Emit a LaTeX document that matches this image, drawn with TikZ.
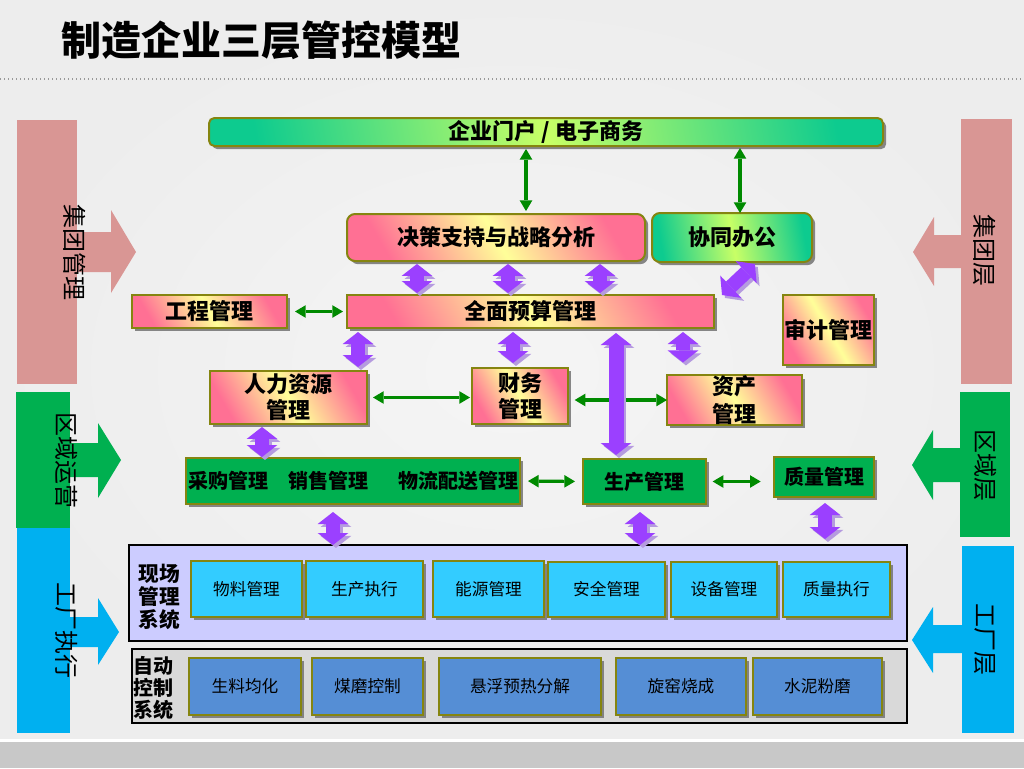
\documentclass[tikz,border=0pt]{standalone}
\usepackage{fontspec}
\setmainfont{Noto Sans CJK SC}
\usetikzlibrary{shadows,arrows.meta}
\definecolor{pinkc}{HTML}{FF7094}
\definecolor{yelc}{HTML}{FFFF99}
\definecolor{tealc}{HTML}{0DCB8F}
\definecolor{lgc}{HTML}{C8FF66}
\definecolor{olivec}{HTML}{858510}
\definecolor{purpc}{HTML}{9B40FF}
\definecolor{purps}{HTML}{B59BDF}
\definecolor{rowg}{HTML}{00B050}
\definecolor{arrg}{HTML}{008A00}
\definecolor{cyanc}{HTML}{33CCFF}
\definecolor{bluec}{HTML}{558ED5}
\definecolor{panela}{HTML}{CCCCFF}
\definecolor{panelb}{HTML}{D9D9D9}
\definecolor{sidep}{HTML}{D99694}
\definecolor{sideg}{HTML}{00B050}
\definecolor{sideb}{HTML}{00B0F0}
\definecolor{bgc}{HTML}{F2F2F2}
\definecolor{bandc}{HTML}{C8C8C8}
\newcommand\mkbox[7]{\node[#6, minimum width={(#4-#2)*0.75pt}, minimum height={(#5-#3)*0.75pt}] (#1) at ({(#2+#4)/2},{(#3+#5)/2}) {#7};}
\newcommand\parr[3][]{\draw[pshadow,#1] ([shift={(2.2pt,-2.2pt)}]#2) -- ([shift={(2.2pt,-2.2pt)}]#3);\draw[pmain,#1] (#2) -- (#3);}
\begin{document}
\begin{tikzpicture}[x=0.75pt,y=-0.75pt,
 box/.style={draw=olivec, line width=1.5pt, inner sep=0pt, outer sep=0pt, align=center,
   drop shadow={shadow xshift=2.4pt, shadow yshift=-2.4pt, fill=black!55, opacity=0.85}},
 pinkbox/.style={box, left color=pinkc, right color=pinkc, middle color=yelc, shading angle=120,
   font=\bfseries\fontsize{16.5}{19.5}\selectfont},
 greenbox/.style={box, left color=tealc, right color=tealc, middle color=lgc, shading angle=100,
   font=\bfseries\fontsize{16.5}{19.5}\selectfont},
 rowbox/.style={box, fill=rowg, font=\bfseries\fontsize{15}{18}\selectfont},
 cyanbox/.style={box, fill=cyanc, font=\fontsize{12.5}{15}\selectfont},
 bluebox/.style={box, fill=bluec, font=\fontsize{12.5}{15}\selectfont},
 panel/.style={draw=black, line width=1.5pt, inner sep=0pt, outer sep=0pt},
 sidelabel/.style={rotate=-90, font=\fontsize{18}{18}\selectfont, inner sep=0pt},
 panellabel/.style={align=center, inner sep=0pt, font=\bfseries\fontsize{15.5}{17.25}\selectfont},
 pmain/.style={draw=purpc, line width=10.5pt, {Triangle[length=9pt,width=23pt,line width=0pt]}-{Triangle[length=9pt,width=23pt,line width=0pt]}},
 pshadow/.style={pmain, draw=purps},
 garrow/.style={draw=arrg, line width=2.4pt, {Triangle[length=8pt,width=9.5pt,line width=0pt]}-{Triangle[length=8pt,width=9.5pt,line width=0pt]}}
]
\useasboundingbox (0,0) rectangle (1024,768);
% background
\fill[bgc] (0,0) rectangle (1024,768);
\shade[inner color=white!96!black, outer color=black!7] (0,0) rectangle (1024,740);
\fill[white] (0,739) rectangle (1024,742);
\fill[bandc] (0,742) rectangle (1024,768);
\draw[black!40, line width=1pt, dotted] (0,79) -- (1024,79);
% title
\node[anchor=west, inner sep=0pt, font=\bfseries\fontsize{30}{30}\selectfont] (title) at (61,40) {制造企业三层管控模型};
% left side bars
\fill[sidep] (17,120) rectangle (77,384);
\fill[sidep] (76,232) -- (111,232) -- (111,210) -- (136,252) -- (111,293) -- (111,272) -- (76,272) -- cycle;
\node[sidelabel] (lj) at (75,252) {集团管理};
\fill[sideg] (16,392) rectangle (70,528);
\fill[sideg] (69,443) -- (98,443) -- (98,423) -- (121,460) -- (98,498) -- (98,477) -- (69,477) -- cycle;
\node[sidelabel] (lq) at (67,460) {区域运营};
\fill[sideb] (17,528) rectangle (70,733);
\fill[sideb] (69,617) -- (98,617) -- (98,598) -- (119,632) -- (98,665) -- (98,647) -- (69,647) -- cycle;
\node[sidelabel] (lg) at (67,630) {工厂执行};
% right side bars
\fill[sidep] (961,119) rectangle (1012,384);
\fill[sidep] (962,235) -- (934,235) -- (934,217) -- (913,252) -- (934,286) -- (934,268) -- (962,268) -- cycle;
\node[sidelabel] (rj) at (985,250) {集团层};
\fill[sideg] (960,392) rectangle (1010,537);
\fill[sideg] (961,448) -- (933,448) -- (933,430) -- (912,465) -- (933,500) -- (933,482) -- (961,482) -- cycle;
\node[sidelabel] (rq) at (985,465) {区域层};
\fill[sideb] (962,546) rectangle (1014,733);
\fill[sideb] (963,625) -- (933,625) -- (933,607) -- (912,640) -- (933,673) -- (933,653) -- (963,653) -- cycle;
\node[sidelabel] (rg) at (985,639) {工厂层};
% top boxes
\mkbox{portal}{209}{118}{883}{146}{greenbox, rounded corners=4pt}{企业门户 / 电子商务}
\mkbox{jc}{347}{214}{645}{261}{pinkbox, rounded corners=6pt}{决策支持与战略分析}
\mkbox{xt}{652}{213}{812}{262}{greenbox, rounded corners=6pt}{协同办公}
\mkbox{qm}{347}{295}{714}{328}{pinkbox}{全面预算管理}
\mkbox{gc}{132}{295}{287}{328}{pinkbox}{工程管理}
\mkbox{sj}{783}{295}{874}{365}{pinkbox}{审计管理}
\mkbox{rl}{210}{371}{367}{424}{pinkbox}{人力资源\\管理}
\mkbox{cw}{472}{368}{568}{424}{pinkbox}{财务\\管理}
\mkbox{zc}{667}{376}{802}{424}{pinkbox, font=\bfseries\fontsize{16.5}{21}\selectfont}{资产\\管理}
% green row
\mkbox{cg}{186}{458}{520}{504}{rowbox}{采购管理\hspace{15pt}销售管理\hspace{22.5pt}物流配送管理}
\mkbox{sc}{583}{459}{706}{504}{rowbox}{生产管理}
\mkbox{zl}{774}{457}{874}{497}{rowbox}{质量管理}
% field management panel
\mkbox{xcp}{129}{545}{907}{641}{panel, fill=panela}{}
\node[panellabel] (xcl) at (159,597) {现场\\管理\\系统};
\mkbox{c1}{191}{561}{302}{617}{cyanbox}{物料管理}
\mkbox{c2}{306}{561}{423}{617}{cyanbox}{生产执行}
\mkbox{c3}{433}{561}{544}{617}{cyanbox}{能源管理}
\mkbox{c4}{548}{562}{665}{617}{cyanbox}{安全管理}
\mkbox{c5}{671}{562}{777}{617}{cyanbox}{设备管理}
\mkbox{c6}{783}{562}{890}{617}{cyanbox}{质量执行}
% automatic control panel
\mkbox{zdp}{132}{649}{907}{723}{panel, fill=panelb}{}
\node[panellabel, font=\bfseries\fontsize{15}{16.5}\selectfont] (zdl) at (153,688) {自动\\控制\\系统};
\mkbox{d1}{189}{658}{301}{715}{bluebox}{生料均化}
\mkbox{d2}{312}{658}{423}{715}{bluebox}{煤磨控制}
\mkbox{d3}{439}{658}{601}{715}{bluebox}{悬浮预热分解}
\mkbox{d4}{616}{658}{746}{715}{bluebox}{旋窑烧成}
\mkbox{d5}{753}{658}{882}{715}{bluebox}{水泥粉磨}
% green connectors
\draw[garrow, shorten <=2.2pt, shorten >=2.2pt] (526,0 |- portal.south) -- (526,0 |- jc.north);
\draw[garrow, shorten <=1.5pt] (740,0 |- portal.south) -- (740,0 |- xt.north);
\draw[garrow, shorten <=6pt, shorten >=3pt] (gc.east) -- (qm.west);
\coordinate (g2e) at (cw.west |- rl.east);
\draw[garrow, shorten <=4.5pt, shorten >=1.5pt] (rl.east) -- (g2e);
\coordinate (g3s) at (cw.east |- zc.west);
\draw[garrow, shorten <=5pt] (g3s) -- (zc.west);
\draw[garrow, shorten <=6pt, shorten >=6pt] (cg.east) -- (sc.west);
\coordinate (g5e) at (zl.west |- sc.east);
\draw[garrow, shorten <=5pt, shorten >=10pt] (sc.east) -- (g5e);
% purple connectors
\coordinate (a1s) at (417,0 |- jc.south); \coordinate (a1e) at (417,0 |- qm.north);
\coordinate (a2s) at (508,0 |- jc.south); \coordinate (a2e) at (508,0 |- qm.north);
\coordinate (a3s) at (600,0 |- jc.south); \coordinate (a3e) at (600,0 |- qm.north);
\parr[shorten <=2.2pt, shorten >=1.5pt]{a1s}{a1e}
\parr[shorten <=2.2pt, shorten >=1.5pt]{a2s}{a2e}
\parr[shorten <=2.2pt, shorten >=1.5pt]{a3s}{a3e}
\coordinate (a4s) at (358,0 |- qm.south); \coordinate (a4e) at (358,0 |- rl.north);
\parr[shorten <=3pt, shorten >=3pt]{a4s}{a4e}
\coordinate (a5s) at (513,0 |- qm.south); \coordinate (a5e) at (513,0 |- cw.north);
\parr[shorten <=3pt, shorten >=3.75pt]{a5s}{a5e}
\coordinate (a6s) at (683,0 |- qm.south); \coordinate (a6e) at (683,0 |- zc.north);
\parr[shorten <=3pt, shorten >=9.75pt]{a6s}{a6e}
\coordinate (a7s) at (616,0 |- qm.south); \coordinate (a7e) at (616,0 |- sc.north);
\parr[line width=11.25pt, shorten <=3.75pt, shorten >=3pt]{a7s}{a7e}
\coordinate (a8s) at (757,0 |- xt.south); \coordinate (a8e) at (722,0 |- qm.north);
\parr[shorten <=2.2pt]{a8s}{a8e}
\coordinate (a9s) at (262,0 |- rl.south); \coordinate (a9e) at (262,0 |- cg.north);
\parr[shorten <=2.2pt, shorten >=0.75pt]{a9s}{a9e}
\coordinate (b1s) at (333,0 |- cg.south); \coordinate (b1e) at (333,0 |- xcp.north);
\parr[shorten <=6pt]{b1s}{b1e}
\coordinate (b2s) at (640,0 |- sc.south); \coordinate (b2e) at (640,0 |- xcp.north);
\parr[shorten <=6pt]{b2s}{b2e}
\coordinate (b3s) at (825,0 |- zl.south); \coordinate (b3e) at (825,0 |- xcp.north);
\parr[shorten <=4.5pt, shorten >=4.5pt]{b3s}{b3e}
\end{tikzpicture}
\end{document}
